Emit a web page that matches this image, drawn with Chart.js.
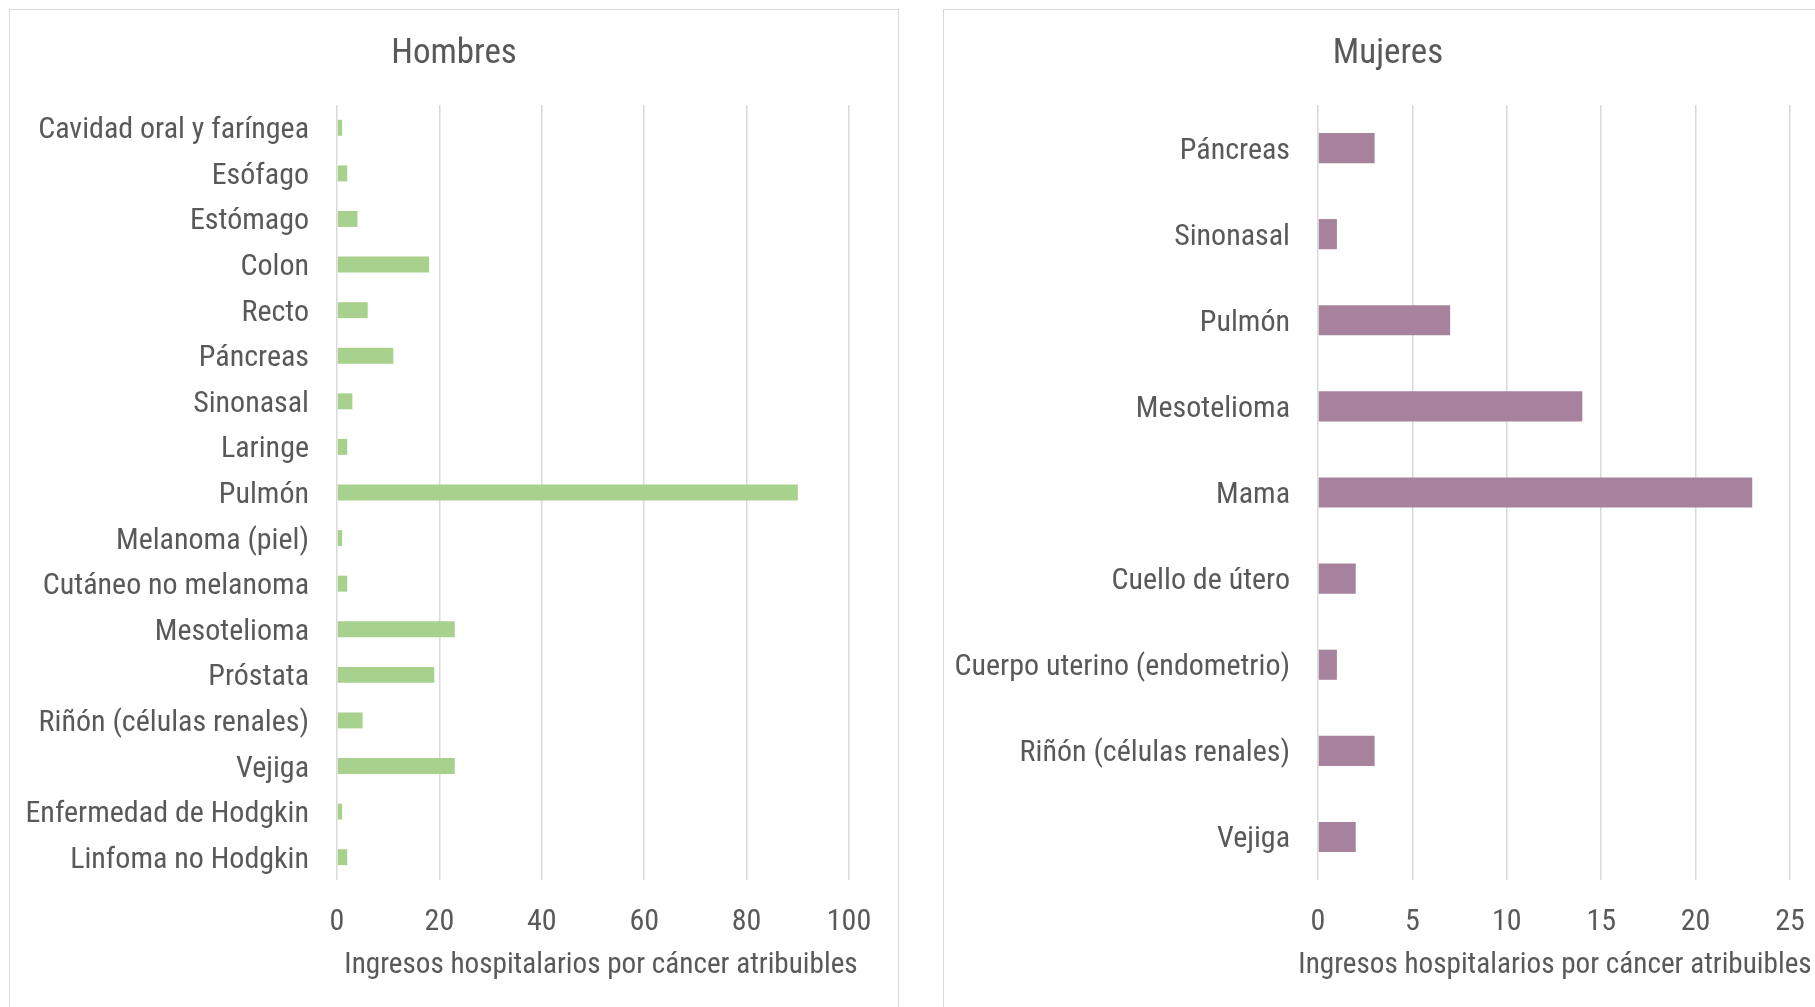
<!DOCTYPE html>
<html>
<head>
<meta charset="utf-8">
<title>Ingresos hospitalarios por cáncer atribuibles</title>
<script src="https://cdn.jsdelivr.net/npm/chart.js@4"></script>
<style>
  html, body { margin: 0; padding: 0; background: #fff; overflow: hidden; }
  .panel { position: absolute; top: 9px; width: 888px; height: 1010px; border: 1px solid #d9d9d9; border-bottom: none; }
  #panelHombres { left: 9px; }
  #panelMujeres { left: 943px; }
  canvas { display: block; }
</style>
</head>
<body>
<div class="panel" id="panelHombres"><canvas id="chartHombres" width="888" height="997"></canvas></div>
<div class="panel" id="panelMujeres"><canvas id="chartMujeres" width="888" height="997"></canvas></div>
<script>
const hombresLabels = ['Cavidad oral y faríngea', 'Esófago', 'Estómago', 'Colon', 'Recto', 'Páncreas', 'Sinonasal', 'Laringe', 'Pulmón', 'Melanoma (piel)', 'Cutáneo no melanoma', 'Mesotelioma', 'Próstata', 'Riñón (células renales)', 'Vejiga', 'Enfermedad de Hodgkin', 'Linfoma no Hodgkin'];
const hombresValues = [1, 2, 4, 18, 6, 11, 3, 2, 90, 1, 2, 23, 19, 5, 23, 1, 2];
const hombresTicks = [0, 20, 40, 60, 80, 100];

const mujeresLabels = ['Páncreas', 'Sinonasal', 'Pulmón', 'Mesotelioma', 'Mama', 'Cuello de útero', 'Cuerpo uterino (endometrio)', 'Riñón (células renales)', 'Vejiga'];
const mujeresValues = [3, 1, 7, 14, 23, 2, 1, 3, 2];
const mujeresTicks = [0, 5, 10, 15, 20, 25];

const axisTitle = 'Ingresos hospitalarios por cáncer atribuibles';
const fontFamily = "'Roboto Condensed', 'Liberation Sans', sans-serif";
const textColor = '#595959';
const gridColor = '#d9d9d9';

Chart.defaults.font.family = fontFamily;
Chart.defaults.color = textColor;

// the built-in scale title squeezes the text to the plot width, so draw it here
const axisTitlePlugin = {
    id: 'axisTitlePlugin',
    afterDraw(chart, args, opts) {
        let ctx = chart.ctx;
        let area = chart.chartArea;
        let xScale = chart.scales.x;
        ctx.save();
        ctx.font = '29.2px ' + fontFamily;
        ctx.fillStyle = textColor;
        ctx.textAlign = 'center';
        ctx.textBaseline = 'middle';
        ctx.fillText(axisTitle, (area.left + area.right) / 2 + (opts.shift || 0), xScale.bottom - 41);
        ctx.restore();
    }
};

// padRight goes on the x scale so the title stays centred on the whole panel
function makeChart(id, title, labels, values, ticks, color, yWidth, padRight, titleShift) {
    let ctx = document.getElementById(id).getContext('2d');
    return new Chart(ctx, {
        type: 'bar',
        data: {
            labels: labels,
            datasets: [{
                data: values,
                backgroundColor: color,
                categoryPercentage: 1,
                barPercentage: 0.35
            }]
        },
        plugins: [axisTitlePlugin],
        options: {
            indexAxis: 'y',
            responsive: false,
            animation: false,
            layout: { padding: 0 },
            plugins: {
                legend: { display: false },
                tooltip: { enabled: false },
                axisTitlePlugin: { shift: titleShift },
                title: {
                    display: true,
                    text: title,
                    color: textColor,
                    font: { size: 35, weight: 'normal' },
                    padding: { top: 23, bottom: 30 }
                }
            },
            scales: {
                x: {
                    min: ticks[0],
                    max: ticks[ticks.length - 1],
                    afterBuildTicks: (scale) => {
                        scale.ticks = ticks.map(v => ({ value: v }));
                    },
                    afterFit: (scale) => {
                        scale.height = 127;
                        scale.paddingRight = padRight;
                    },
                    grid: { color: gridColor, lineWidth: 1.5, drawTicks: false },
                    border: { display: false },
                    ticks: { padding: 24, font: { size: 30 }, color: textColor }
                },
                y: {
                    afterFit: (scale) => { scale.width = yWidth; },
                    grid: { display: false, drawTicks: false },
                    border: { display: false },
                    ticks: { padding: 28, labelOffset: 3, font: { size: 30 }, color: textColor, autoSkip: false }
                }
            }
        }
    });
}

let chartHombres = makeChart('chartHombres', 'Hombres', hombresLabels, hombresValues, hombresTicks, '#a9d18e', 327, 49, 8);
let chartMujeres = makeChart('chartMujeres', 'Mujeres', mujeresLabels, mujeresValues, mujeresTicks, '#a6829c', 374, 42, 1);
</script>
</body>
</html>
